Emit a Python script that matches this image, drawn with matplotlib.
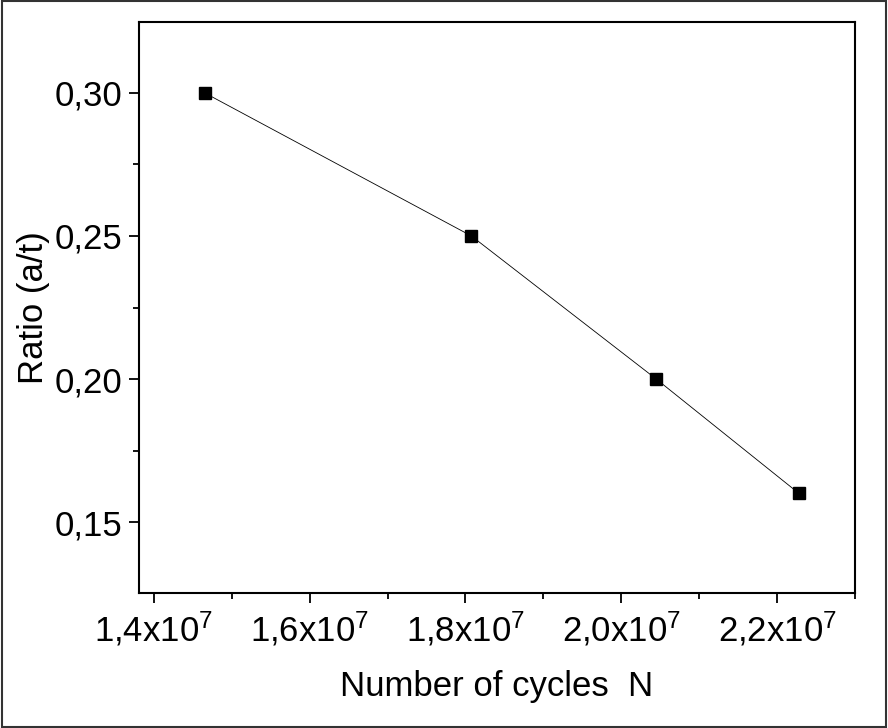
import numpy as np
import matplotlib.pyplot as plt
from matplotlib.ticker import FuncFormatter, MultipleLocator
from matplotlib.patches import Rectangle

plt.rcParams['font.family'] = ['Liberation Sans', 'DejaVu Sans']
plt.rcParams['mathtext.fontset'] = 'custom'
plt.rcParams['mathtext.rm'] = 'Liberation Sans'
plt.rcParams['mathtext.it'] = 'Liberation Sans'

cycles = [1.4654e7, 1.8077e7, 2.0449e7, 2.2282e7]
ratio = [0.30, 0.25, 0.20, 0.16]

fig = plt.figure(figsize=(8.88, 7.28), dpi=100)
ax = fig.add_axes([0.1565, 0.1854, 0.8063, 0.7844])

ax.plot(cycles, ratio, color='black', lw=0.6, marker='s', ms=9,
        mec='black', mfc='black')

ax.set_xlim(1.381e7, 2.3e7)
ax.set_ylim(0.1252, 0.3248)

ax.xaxis.set_major_locator(MultipleLocator(0.2e7))
ax.xaxis.set_minor_locator(MultipleLocator(0.1e7))
ax.yaxis.set_major_locator(MultipleLocator(0.05))
ax.yaxis.set_minor_locator(MultipleLocator(0.025))

def xfmt(v, pos):
    return ('%.1f' % (v / 1e7)).replace('.', ',') + r'x10$^{7}$'

def yfmt(v, pos):
    return ('%.2f' % v).replace('.', ',')

ax.xaxis.set_major_formatter(FuncFormatter(xfmt))
ax.yaxis.set_major_formatter(FuncFormatter(yfmt))

ax.tick_params(which='both', direction='out', width=1.3, labelsize=25, pad=5)
ax.tick_params(which='major', length=7)
ax.tick_params(which='minor', length=4)
for s in ax.spines.values():
    s.set_linewidth(1.5)

ax.set_xlabel('Number of cycles  N', fontsize=25, labelpad=16)
ax.set_ylabel('Ratio (a/t)', fontsize=25, labelpad=3)

fig.patches.append(Rectangle((0.002, 0.002), 0.996, 0.996, transform=fig.transFigure,
                             fill=False, edgecolor='#333333', lw=1.5))

fig.savefig('out.png', dpi=100)
